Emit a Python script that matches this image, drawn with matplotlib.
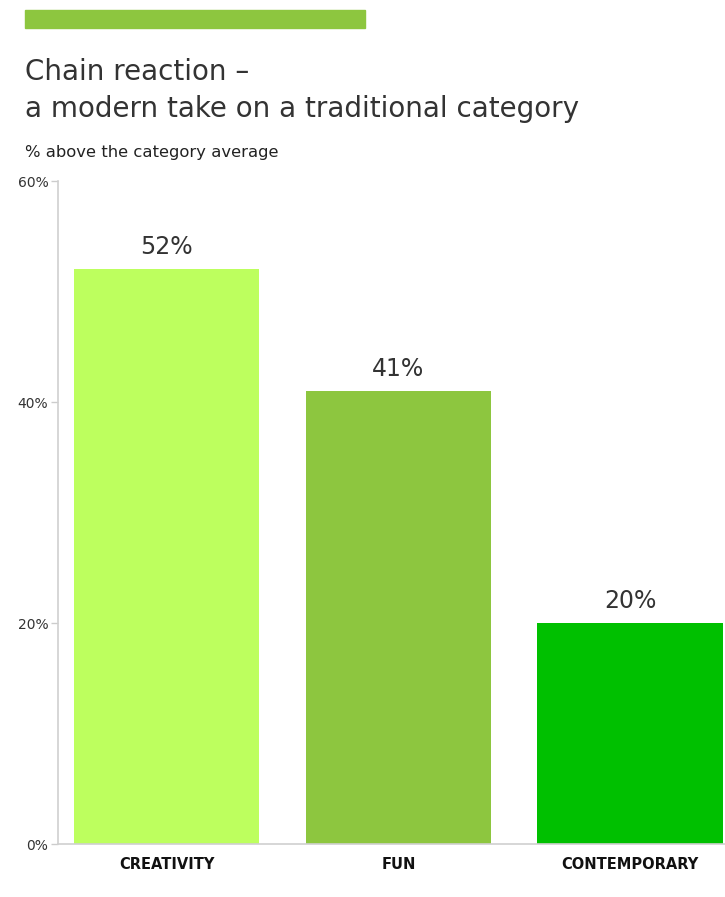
import matplotlib
matplotlib.use('Agg')
import matplotlib.pyplot as plt
from matplotlib.patches import Rectangle

plt.rcParams['font.family'] = ['DejaVu Sans']

categories = ['CREATIVITY', 'FUN', 'CONTEMPORARY']
values = [52, 41, 20]
bar_colors = ['#BDFF5E', '#8DC63F', '#00C000']
yticks = [0, 20, 40, 60]
ytick_labels = ['0%', '20%', '40%', '60%']

W, H = 725, 897
fig = plt.figure(figsize=(W / 100, H / 100), dpi=100)

# accent strip above the title
fig.patches.append(Rectangle((25 / W, 1 - 28 / H), 340 / W, 18 / H,
                             transform=fig.transFigure, color='#8DC63F'))

fig.text(25 / W, 1 - 80 / H, 'Chain reaction \u2013', fontsize=20,
         color='#333333')
fig.text(25 / W, 1 - 117 / H, 'a modern take on a traditional category',
         fontsize=20, color='#333333')
fig.text(25 / W, 1 - 157 / H, '% above the category average', fontsize=11.8,
         color='#222222')

ax = fig.add_axes([58 / W, 1 - 844 / H, (725 - 58) / W, (844 - 181) / H])
x = range(len(categories))
bars = ax.bar(x, values, width=0.8, color=bar_colors)
for b, v in zip(bars, values):
    ax.text(b.get_x() + b.get_width() / 2, v + 0.9, f'{v}%', ha='center',
            va='bottom', fontsize=17, color='#333333')

ax.set_xlim(-0.47, 2.41)
ax.set_ylim(0, 60)
ax.set_yticks(yticks)
ax.set_yticklabels(ytick_labels, fontsize=10, color='#333333')
ax.set_xticks(list(x))
ax.set_xticklabels(categories, fontsize=10.5, fontweight='bold', color='#111111')
ax.tick_params(axis='y', length=5, width=1, color='#cccccc', pad=2)
ax.tick_params(axis='x', length=0, pad=9)
for s in ['top', 'right']:
    ax.spines[s].set_visible(False)
ax.spines['left'].set_color('#d0d0d0')
ax.spines['bottom'].set_color('#d0d0d0')
ax.spines['left'].set_linewidth(1.2)
ax.spines['bottom'].set_linewidth(1.2)

fig.savefig('out.png', dpi=100)
